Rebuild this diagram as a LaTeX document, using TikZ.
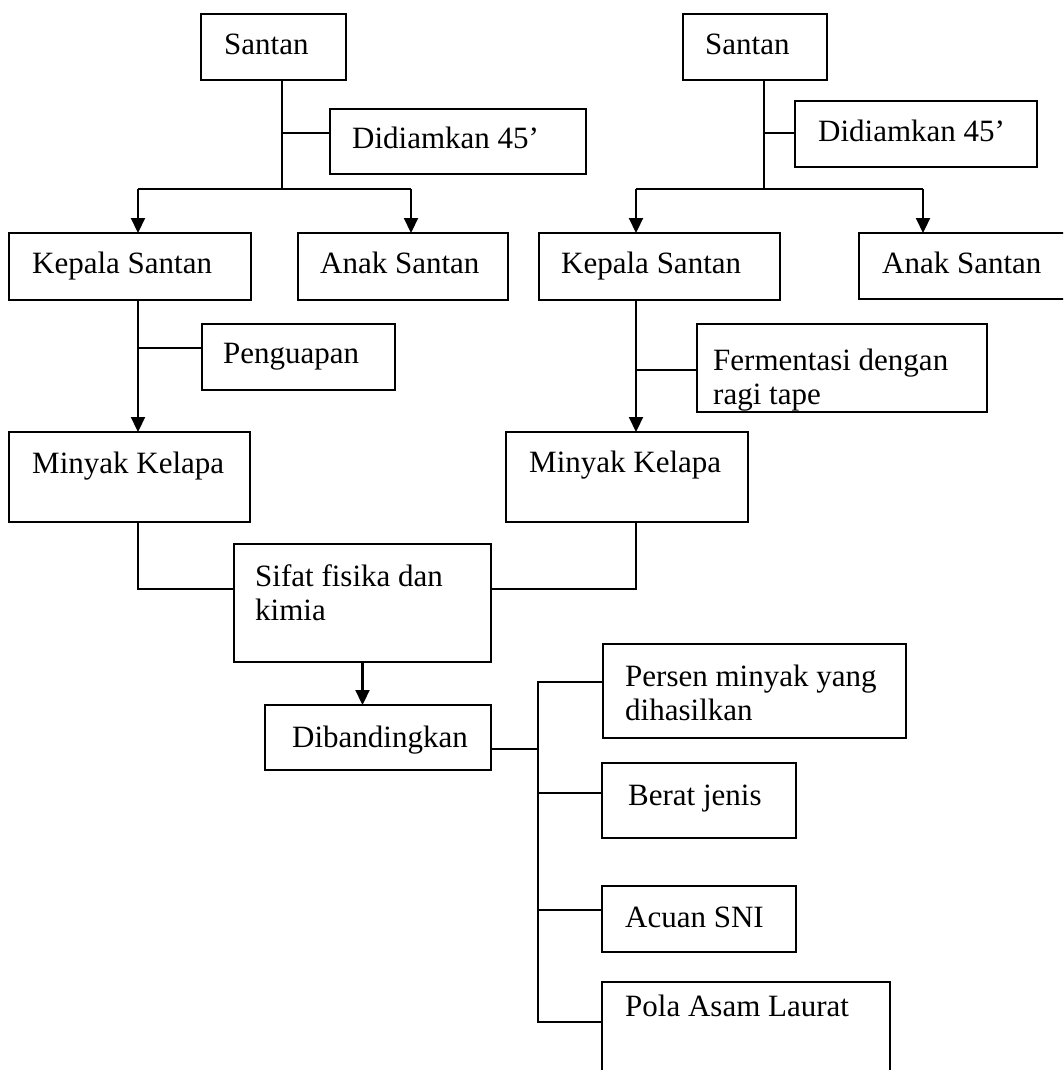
\documentclass[tikz,border=0pt]{standalone}
\usepackage{fontspec}
\setmainfont{Liberation Serif}
\usetikzlibrary{arrows.meta}
\tikzset{
  boxst/.style={draw, rectangle, line width=2.2pt, inner sep=0pt, outer sep=0pt},
  txtst/.style={inner sep=0pt, anchor=base west, align=left, font=\fontsize{31}{34}\selectfont},
  conn/.style={line width=2.2pt},
  arr/.style={line width=2.2pt, -{Triangle[width=14pt,length=15pt]}},
}
% #1 name, #2 left, #3 top, #4 right, #5 bottom, #6 text dx, #7 dy of last baseline, #8 text
\newcommand\mybox[8]{%
  \node[boxst, anchor=north west, minimum width={#4-#2}, minimum height={#5-#3}] (#1) at (#2,#3) {};
  \node[txtst] (#1t) at ([xshift=#6pt, yshift=-#7pt]#1.north west) {#8};
}
\begin{document}
\begin{tikzpicture}[x=1pt, y=-1pt]
\useasboundingbox (0,0) rectangle (1063,1070);
\clip (0,0) rectangle (1063,1070);
% left branch
\mybox{sL}{201}{14}{346}{80}{23}{41}{Santan}
\mybox{dL}{330}{109}{586}{174}{22}{39}{Didiamkan 45’}
\mybox{kL}{9}{233}{251}{300}{23}{40}{Kepala Santan}
\mybox{aL}{298}{233}{508}{300}{22}{40}{Anak Santan}
\mybox{pL}{202}{324}{395}{390}{21}{39}{Penguapan}
\mybox{mL}{9}{432}{250}{522}{23}{41}{Minyak Kelapa}
% right branch
\mybox{sR}{683}{14}{827}{80}{22}{41}{Santan}
\mybox{dR}{795}{101}{1037}{167}{23}{40}{Didiamkan 45’}
\mybox{kR}{539}{233}{780}{300}{22}{40}{Kepala Santan}
\mybox{aR}{859}{233}{1075}{299}{23}{40}{Anak Santan}
\mybox{fR}{697}{324}{987}{412}{16}{80}{\fontsize{31}{33}\selectfont Fermentasi dengan\\ragi tape}
\mybox{mR}{506}{432}{748}{522}{23}{40}{Minyak Kelapa}
% lower part
\mybox{sf}{234}{544}{491}{662}{21}{76}{Sifat fisika dan\\kimia}
\mybox{db}{265}{705}{491}{770}{27}{42}{Dibandingkan}
\mybox{ps}{603}{644}{906}{738}{22}{76}{\fontsize{31}{33}\selectfont Persen minyak yang\\dihasilkan}
\mybox{bj}{602}{763}{796}{838}{26}{42}{Berat jenis}
\mybox{ac}{602}{886}{796}{952}{23}{41}{Acuan SNI}
\mybox{pa}{602}{982}{890}{1090}{23}{34}{Pola Asam Laurat}
% left connectors
\coordinate (jL) at (282,189);
\coordinate (hL1) at (138,189);
\coordinate (hL2) at (411,189);
\coordinate (cdL) at (282,133);
\coordinate (cpL) at (138,348);
\coordinate (cmL) at (138,589);
\draw[conn] (jL |- sL.south) -- (jL);
\draw[conn] (cdL) -- (cdL -| dL.west);
\draw[conn] (hL1) -- (hL2);
\draw[arr] (hL1) -- (hL1 |- kL.north);
\draw[arr] (hL2) -- (hL2 |- aL.north);
\draw[arr] (hL1 |- kL.south) -- (hL1 |- mL.north);
\draw[conn] (cpL) -- (cpL -| pL.west);
\draw[conn] (hL1 |- mL.south) -- (cmL) -- (cmL -| sf.west);
% right connectors
\coordinate (jR) at (764,189);
\coordinate (hR1) at (636,189);
\coordinate (hR2) at (923,189);
\coordinate (cdR) at (764,133);
\coordinate (cfR) at (636,370);
\coordinate (cmR) at (636,589);
\draw[conn] (jR |- sR.south) -- (jR);
\draw[conn] (cdR) -- (cdR -| dR.west);
\draw[conn] (hR1) -- (hR2);
\draw[arr] (hR1) -- (hR1 |- kR.north);
\draw[arr] (hR2) -- (hR2 |- aR.north);
\draw[arr] (hR1 |- kR.south) -- (hR1 |- mR.north);
\draw[conn] (cfR) -- (cfR -| fR.west);
\draw[conn] (hR1 |- mR.south) -- (cmR) -- (cmR -| sf.east);
% comparison
\draw[arr] (sf.south) -- (sf.south |- db.north);
\coordinate (bT) at (538,682);
\coordinate (bB) at (538,1022);
\coordinate (cdb) at (538,749);
\coordinate (cbj) at (538,793);
\coordinate (cac) at (538,910);
\draw[conn] (cdb -| db.east) -- (cdb);
\draw[conn] (bT -| ps.west) -- (bT) -- (bB) -- (bB -| pa.west);
\draw[conn] (cbj) -- (cbj -| bj.west);
\draw[conn] (cac) -- (cac -| ac.west);
\end{tikzpicture}
\end{document}
